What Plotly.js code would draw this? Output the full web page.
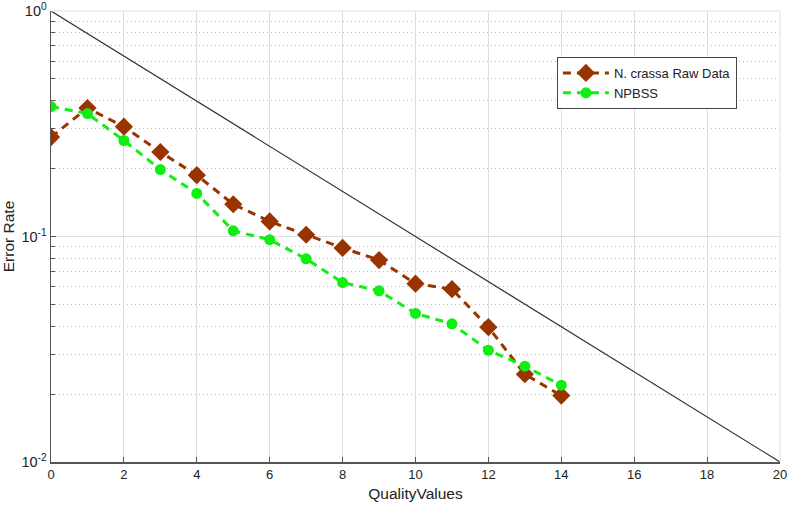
<!DOCTYPE html>
<html>
<head>
<meta charset="utf-8">
<script src="https://cdn.plot.ly/plotly-3.0.1.min.js"></script>
<style>html,body{margin:0;padding:0;background:#fff;}#chart{width:787px;height:505px;}</style>
</head>
<body>
<div id="chart"></div>
<script>
var qualityValues = [0,1,2,3,4,5,6,7,8,9,10,11,12,13,14];
var rawData = [0.276,0.371,0.307,0.237,0.187,0.139,0.1166,0.1018,0.089,0.0786,0.0618,0.0584,0.0396,0.0245,0.0197];
var npbss = [0.377,0.351,0.2665,0.198,0.1553,0.106,0.0968,0.0796,0.0625,0.0574,0.0456,0.041,0.0313,0.0266,0.0219];
var refX = [0,20];
var refY = [1,0.01];
var xTicks = [0,2,4,6,8,10,12,14,16,18,20];
var yTickVals = [0.01,0.1,1];
var yTickText = ['10<sup>-2</sup>','10<sup>-1</sup>','10<sup>0</sup>'];

var traces = [
  {x: refX, y: refY, mode: 'lines', line: {color: '#333333', width: 1.2}, showlegend: false, hoverinfo: 'skip'},
  {x: qualityValues, y: rawData, name: 'N. crassa Raw Data', mode: 'lines+markers',
   line: {color: '#993300', width: 3, dash: '8px,6px'},
   marker: {symbol: 'diamond', size: 14, color: '#993300'}},
  {x: qualityValues, y: npbss, name: 'NPBSS', mode: 'lines+markers',
   line: {color: '#11ee11', width: 3, dash: '8px,6px'},
   marker: {symbol: 'circle', size: 11, color: '#11ee11'}}
];

var layout = {
  width: 787, height: 505,
  margin: {l: 51, r: 7, t: 11, b: 43},
  paper_bgcolor: '#ffffff', plot_bgcolor: '#ffffff',
  font: {family: 'Liberation Sans, Arial, sans-serif', size: 13, color: '#222'},
  xaxis: {
    range: [0, 20], tickvals: xTicks, ticktext: xTicks.map(String),
    ticklabeloverflow: 'allow',
    showgrid: true, gridcolor: '#dedede', gridwidth: 1,
    showline: true, linecolor: '#555', linewidth: 1.5, mirror: false,
    ticks: 'inside', ticklen: 5, tickcolor: '#555',
    tickfont: {size: 13},
    zeroline: false,
    title: {text: 'QualityValues', font: {size: 15.5}, standoff: 7}
  },
  yaxis: {
    type: 'log', range: [-2, 0],
    tickvals: yTickVals, ticktext: yTickText,
    ticklabeloverflow: 'allow',
    showgrid: true, gridcolor: '#dedede', gridwidth: 1,
    showline: true, linecolor: '#555', linewidth: 1.5,
    ticks: 'inside', ticklen: 5, tickcolor: '#555',
    tickfont: {size: 14.5},
    minor: {dtick: 'D1', showgrid: true, gridcolor: '#bdbdbd', griddash: '1px,3px', gridwidth: 1, ticks: 'inside', ticklen: 4, tickcolor: '#555'},
    zeroline: false,
    title: {text: 'Error Rate', font: {size: 15.5}, standoff: 8}
  },
  showlegend: true,
  legend: {
    x: 0.694, y: 0.898, xanchor: 'left', yanchor: 'top',
    bgcolor: '#ffffff', bordercolor: '#444', borderwidth: 1,
    font: {size: 13}, tracegroupgap: 0, itemwidth: 46
  },
  shapes: [
    {type: 'line', xref: 'paper', yref: 'paper', x0: 0, x1: 1, y0: 1, y1: 1, line: {color: '#dedede', width: 1}},
    {type: 'line', xref: 'paper', yref: 'paper', x0: 1, x1: 1, y0: 0, y1: 1, line: {color: '#dedede', width: 1}}
  ]
};

Plotly.newPlot('chart', traces, layout, {displayModeBar: false, staticPlot: true});
</script>
</body>
</html>
